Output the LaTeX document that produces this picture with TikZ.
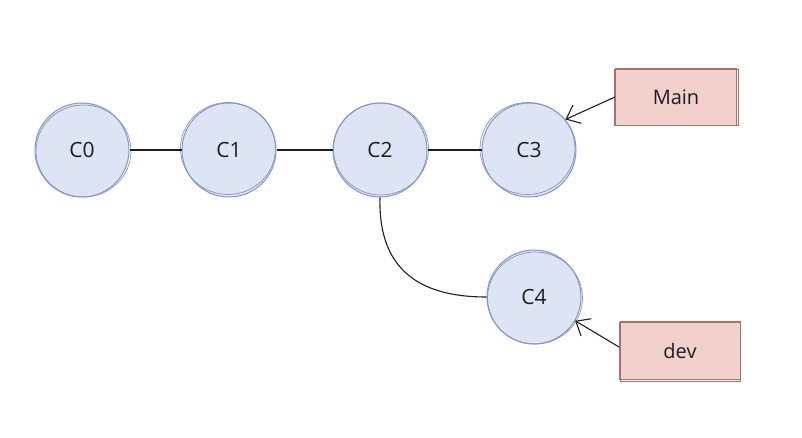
\documentclass[tikz,border=0pt]{standalone}
\usepackage{fontspec}
\setmainfont{Open Sans}
\usetikzlibrary{arrows.meta}
\definecolor{cfill}{HTML}{DDE5F5}
\definecolor{cline}{HTML}{8595C2}
\definecolor{rfill}{HTML}{F2D0CC}
\definecolor{rline}{HTML}{A86F6C}
\definecolor{ink}{HTML}{1E1E1E}
\tikzset{
  commit/.style={circle, fill=cfill, draw=cline, line width=1pt, minimum size=94pt, inner sep=0pt, font=\fontsize{21}{24}\selectfont, text=ink},
  branch/.style={rectangle, fill=rfill, draw=rline, line width=1pt, minimum width=121pt, minimum height=57pt, inner sep=0pt, font=\fontsize{20}{24}\selectfont, text=ink},
  sketch/.style={draw=cline, line width=0.7pt},
  link/.style={draw=ink, line width=1.1pt},
  ptr/.style={draw=ink, line width=1.1pt, -{Straight Barb[length=12pt,width=20pt,line width=1.1pt]}}
}
\begin{document}
\begin{tikzpicture}[x=1pt,y=-1pt]
\useasboundingbox (0,0) rectangle (802,438);
\node[commit] (c0) at (82,150) {C0};
\node[commit] (c1) at (229,150) {C1};
\node[commit] (c2) at (380,150) {C2};
\node[commit] (c3) at (529,150) {C3};
\node[commit] (c4) at (534,297) {C4};
\foreach \n/\dx/\dy in {c0/1.5/-1, c1/-1/1.5, c2/1/1, c3/-1.5/1.5, c4/1/-1}{
  \draw[sketch] ([xshift=\dx pt,yshift=\dy pt]\n.center) ellipse [x radius=47.5pt, y radius=46pt];
}
\node[branch] (main) at (676,97) {Main};
\node[branch] (dev) at (680,351) {dev};
\draw[rline, line width=0.7pt] ([xshift=-1pt,yshift=1pt]main.south west) rectangle ([xshift=1pt,yshift=-1pt]main.north east);
\draw[rline, line width=0.7pt] ([xshift=1pt,yshift=-1pt]dev.south west) rectangle ([xshift=-1pt,yshift=1pt]dev.north east);
\draw[link] (c0) -- (c1);
\draw[link] (c1) -- (c2);
\draw[link] (c2) -- (c3);
\draw[link] (c2.south) .. controls (378,270) and (420,297) .. (c4.west);
\draw[ptr] (main.west) -- (c3.40);
\draw[ptr] (dev.west |- 0,347) -- (c4.-30);
\end{tikzpicture}
\end{document}
